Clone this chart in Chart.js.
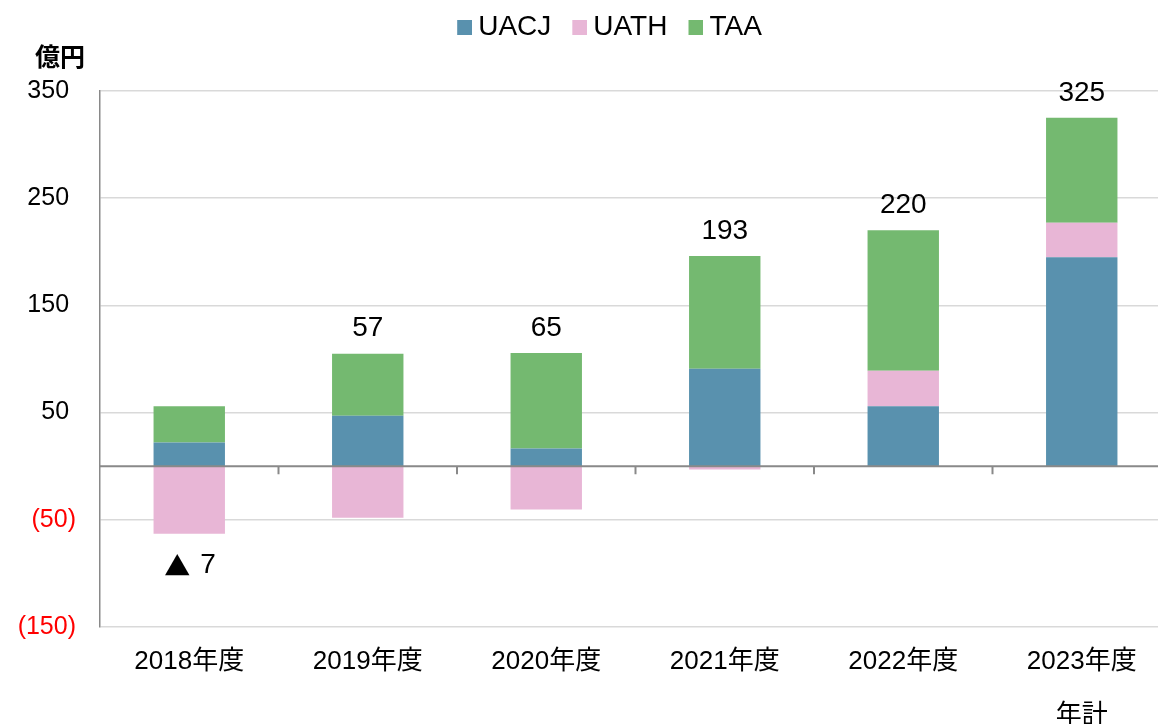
<!DOCTYPE html>
<html>
<head>
<meta charset="utf-8">
<script src="https://cdn.jsdelivr.net/npm/chart.js@4/dist/chart.umd.min.js"></script>
<style>
  html, body { margin: 0; padding: 0; background: #ffffff; overflow: hidden; width: 1158px; height: 724px; }
  canvas { display: block; }
</style>
</head>
<body>
<canvas id="c" width="1172" height="724"></canvas>
<script>
// ---- data ----
const categories = ['2018年度', '2019年度', '2020年度', '2021年度', '2022年度', ['2023年度', '年計']];
const seriesNames = ['UACJ', 'UATH', 'TAA'];
const uacj = [22, 47, 16.5, 91, 56, 195];
const uath = [-63, -48, -40.5, -3, 33, 32];
const taa  = [34, 58, 89, 105, 131, 98];
const totals = [-7, 57, 65, 193, 220, 325];
const yTicks = [-150, -50, 50, 150, 250, 350];
const unitLabel = '億円';

// ---- styles ----
const FONT = "'Liberation Sans', Arial, 'Noto Sans CJK JP', sans-serif";
const CJK = "'Noto Sans CJK JP', sans-serif";
const colors = ['#5991AE', '#E8B6D6', '#74B970'];

// legend swatch: 15px square placed at the right side of a wider transparent canvas,
// so that the gap between square and text is small like in the reference
function makeSwatch(color) {
  const c = document.createElement('canvas');
  c.width = 31; c.height = 15;
  const g = c.getContext('2d');
  g.fillStyle = color;
  g.fillRect(16, 0, 15, 15);
  return c;
}
const swatches = colors.map(makeSwatch);

const overlay = {
  id: 'overlay',
  afterLayout(chart) {
    if (chart.legend) { chart.legend.left += 20; chart.legend.right += 20; }
  },
  afterDatasetsDraw(chart) {
    const { ctx, scales: { x, y }, chartArea } = chart;
    ctx.save();
    const y0 = y.getPixelForValue(0);
    ctx.strokeStyle = '#898989';
    ctx.lineWidth = 2;
    ctx.beginPath();
    ctx.moveTo(chartArea.left, y0);
    ctx.lineTo(chartArea.right, y0);
    for (let i = 0; i < categories.length - 1; i++) {
      const bx = (x.getPixelForValue(i) + x.getPixelForValue(i + 1)) / 2;
      ctx.moveTo(bx, y0);
      ctx.lineTo(bx, y0 + 8);
    }
    ctx.stroke();

    ctx.fillStyle = '#000000';
    ctx.textBaseline = 'middle';
    totals.forEach((t, i) => {
      let pos = 0, neg = 0;
      chart.data.datasets.forEach(ds => {
        const v = ds.data[i];
        if (v >= 0) pos += v; else neg += v;
      });
      const cx = x.getPixelForValue(i);
      if (t < 0) {
        const ly = y.getPixelForValue(neg) + 32;
        ctx.font = '26px ' + CJK;
        ctx.textAlign = 'center';
        ctx.fillText('▲', cx - 12, ly);
        ctx.font = '28px ' + FONT;
        ctx.textAlign = 'left';
        ctx.fillText(String(-t), cx + 11, ly);
      } else {
        ctx.font = '28px ' + FONT;
        ctx.textAlign = 'center';
        ctx.fillText(String(t), cx, y.getPixelForValue(pos) - 25);
      }
    });
    ctx.restore();
  },
  afterDraw(chart) {
    const { ctx } = chart;
    ctx.save();
    ctx.font = 'bold 25px ' + CJK;
    ctx.fillStyle = '#000000';
    ctx.textAlign = 'left';
    ctx.textBaseline = 'middle';
    ctx.fillText(unitLabel, 35, 56);
    ctx.restore();
  }
};

new Chart(document.getElementById('c'), {
  type: 'bar',
  data: {
    labels: categories,
    datasets: [
      { label: seriesNames[0], data: uacj, backgroundColor: colors[0] },
      { label: seriesNames[1], data: uath, backgroundColor: colors[1] },
      { label: seriesNames[2], data: taa,  backgroundColor: colors[2] }
    ]
  },
  options: {
    responsive: false,
    devicePixelRatio: 1,
    animation: false,
    layout: { padding: { top: 0, left: 0, right: 1, bottom: 0 } },
    datasets: { bar: { categoryPercentage: 1.0, barPercentage: 0.4, borderWidth: 0 } },
    scales: {
      x: {
        stacked: true,
        grid: { display: false, drawTicks: false },
        border: { display: false },
        ticks: {
          color: '#000000',
          padding: 8,
          maxRotation: 0,
          autoSkip: false,
          font: { family: FONT, size: 26, lineHeight: '54px' }
        },
        afterFit(s) { s.height = 97; }
      },
      y: {
        stacked: true,
        min: -150,
        max: 350,
        afterBuildTicks(s) { s.ticks = yTicks.map(v => ({ value: v })); },
        grid: { color: '#d9d9d9', lineWidth: 1.5, drawTicks: false },
        border: { display: true, color: '#898989', width: 1.5 },
        ticks: {
          padding: 24,
          font: { family: FONT, size: 25 },
          color: (c) => (c.tick && c.tick.value < 0 ? '#ff0000' : '#000000'),
          callback: (v) => (v < 0 ? '(' + (-v) + ')' : v + ' ')
        },
        afterFit(s) { s.width = 100; }
      }
    },
    plugins: {
      legend: {
        position: 'top',
        align: 'center',
        labels: {
          color: '#000000',
          font: { family: FONT, size: 28 },
          usePointStyle: true,
          boxWidth: 15,
          boxHeight: 15,
          padding: 13,
          generateLabels(chart) {
            const items = Chart.defaults.plugins.legend.labels.generateLabels(chart);
            items.forEach((it, i) => { it.pointStyle = swatches[i]; });
            return items;
          }
        }
      },
      subtitle: {
        display: true,
        text: '',
        position: 'top',
        weight: 500,
        font: { family: FONT, size: 10, lineHeight: '10px' },
        padding: { top: 0, bottom: 30 }
      },
      tooltip: { enabled: false }
    }
  },
  plugins: [overlay]
});
</script>
</body>
</html>
